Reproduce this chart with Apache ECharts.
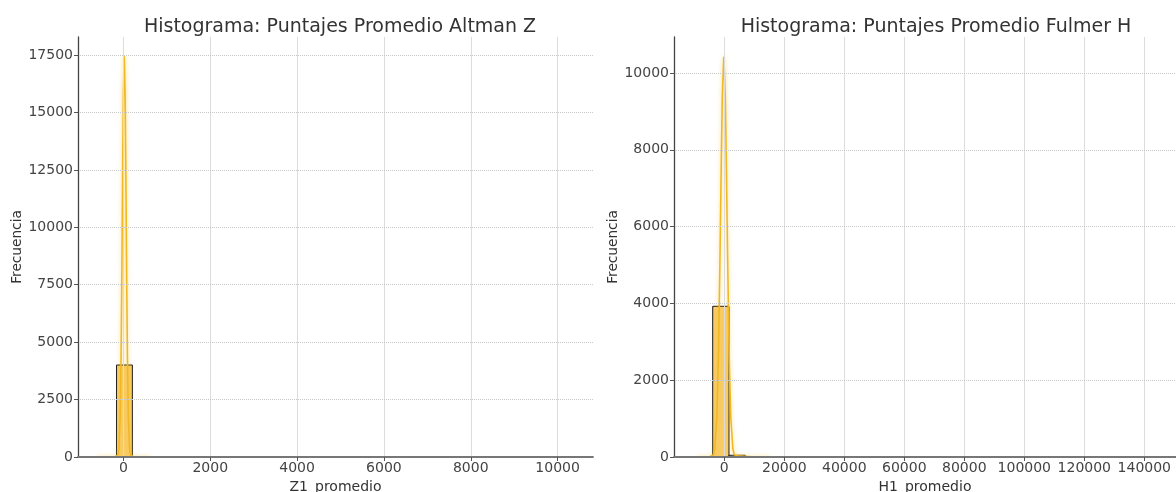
<!DOCTYPE html>
<html>
<head>
<meta charset="utf-8">
<script src="https://cdn.jsdelivr.net/npm/echarts@6/dist/echarts.min.js"></script>
<style>
html,body{margin:0;padding:0;background:#fff;}
#chart{width:1176px;height:492px;}
</style>
</head>
<body>
<div id="chart"></div>
<script>
// ---- Data ----
const leftTitle = 'Histograma: Puntajes Promedio Altman Z';
const rightTitle = 'Histograma: Puntajes Promedio Fulmer H';
const leftXName = 'Z1_promedio';
const rightXName = 'H1_promedio';
const yName = 'Frecuencia';

// Altman Z histogram (30 bins)
const leftBinStart = -158;
const leftBinWidth = 365;
const leftCounts = [4005, 6, 2, 1, 0, 1, 0, 0, 1, 0, 0, 0, 0, 0, 1, 0, 0, 0, 0, 0, 0, 0, 0, 0, 0, 0, 0, 0, 0, 1];
const leftKde = [[-600,0],[-200,0],[-123,87],[-103,350],[-75,1745],[-53,4360],[-32,8725],[-14,13090],[0,15700],[20,17450],[40,15700],[54,13090],[72,8725],[93,4360],[115,1745],[143,350],[163,87],[250,0],[600,0]];
const leftXTicks = [0, 2000, 4000, 6000, 8000, 10000];
const leftYTicks = [0, 2500, 5000, 7500, 10000, 12500, 15000, 17500];

// Fulmer H histogram (28 bins)
const rightBinStart = -3870;
const rightBinWidth = 5430;
const rightCounts = [3924, 45, 8, 3, 1, 1, 0, 1, 0, 0, 0, 0, 0, 0, 0, 0, 0, 0, 0, 0, 0, 0, 0, 0, 0, 0, 0, 1];
const rightKde = [[-9000,0],[-5000,0],[-3670,50],[-3190,210],[-2490,1040],[-1970,2600],[-1440,5210],[-990,7800],[-670,9380],[-170,10420],[330,9380],[650,7800],[1100,5210],[1630,2600],[2150,1040],[2850,210],[3330,60],[4500,30],[6500,20],[9000,5],[12000,0],[15000,0]];
const rightXTicks = [0, 20000, 40000, 60000, 80000, 100000, 120000, 140000];
const rightYTicks = [0, 2000, 4000, 6000, 8000, 10000];

// ---- Build ----
function bins(start, width, counts) {
  return counts.map((c, i) => [start + i * width, start + (i + 1) * width, c]);
}
const FONT = 'DejaVu Sans';
const barFill = 'rgba(246,188,58,0.78)';
const kdeColor = '#f2b824';

function histRender(params, api) {
  const p0 = api.coord([api.value(0), api.value(2)]);
  const p1 = api.coord([api.value(1), 0]);
  return {
    type: 'rect',
    shape: {x: p0[0], y: p0[1], width: p1[0] - p0[0], height: p1[1] - p0[1]},
    style: {fill: barFill, stroke: '#1a1a1a', lineWidth: 1}
  };
}

function xAxis(idx, min, max, ticks, name) {
  return {
    type: 'value', gridIndex: idx, min: min, max: max, z: 10,
    name: name, nameLocation: 'middle', nameGap: 23,
    nameTextStyle: {fontFamily: FONT, fontSize: 14, color: '#333'},
    axisLine: {show: true, onZero: false, lineStyle: {color: '#777', width: 1.8}},
    axisTick: {show: true, length: 4, customValues: ticks, lineStyle: {color: '#555'}},
    axisLabel: {customValues: ticks, margin: 4, fontFamily: FONT, fontSize: 14, color: '#444',
      formatter: v => String(v)},
    splitLine: {show: false}
  };
}
function yAxis(idx, max, ticks, name) {
  return {
    type: 'value', gridIndex: idx, min: 0, max: max, z: 10,
    name: name, nameLocation: 'middle', nameGap: 53, nameRotate: 90,
    nameTextStyle: {fontFamily: FONT, fontSize: 13.7, color: '#333'},
    axisLine: {show: true, onZero: false, lineStyle: {color: '#444', width: 1.3}},
    axisTick: {show: true, length: 4, customValues: ticks, lineStyle: {color: '#555'}},
    axisLabel: {customValues: ticks, margin: 5, fontFamily: FONT, fontSize: 14, color: '#444',
      formatter: v => String(v)},
    splitLine: {show: false}
  };
}
function gridLines(idx, xticks, yticks) {
  return {
    type: 'line', xAxisIndex: idx, yAxisIndex: idx, data: [[xticks[0], 0]],
    showSymbol: false, lineStyle: {opacity: 0}, silent: true, z: 1,
    markLine: {silent: true, symbol: 'none', label: {show: false}, animation: false,
      data: xticks.map(t => ({xAxis: t, lineStyle: {color: '#dcdcdc', type: 'solid', width: 1}}))
        .concat(yticks.slice(1).map(t => ({yAxis: t, lineStyle: {color: '#c8c8c8', type: 'dotted', width: 1}})))}
  };
}
function kdeSeries(idx, data) {
  return {type: 'line', xAxisIndex: idx, yAxisIndex: idx, data: data, showSymbol: false, z: 4,
    lineStyle: {color: kdeColor, width: 1.6, shadowBlur: 4, shadowColor: 'rgba(247,200,60,0.7)'}};
}

const chart = echarts.init(document.getElementById('chart'), null, {renderer: 'canvas'});
chart.setOption({
  backgroundColor: '#fff',
  animation: false,
  title: [
    {text: leftTitle, left: 335, top: 13, textAlign: 'center',
      textStyle: {fontFamily: FONT, fontSize: 19, fontWeight: 'normal', color: '#333'}},
    {text: rightTitle, left: 931, top: 13, textAlign: 'center',
      textStyle: {fontFamily: FONT, fontSize: 19, fontWeight: 'normal', color: '#333'}}
  ],
  grid: [
    {left: 78, right: 583, top: 37, bottom: 35, containLabel: false, outerBoundsMode: 'none'},
    {left: 674, right: 0, top: 37, bottom: 35, containLabel: false, outerBoundsMode: 'none'}
  ],
  xAxis: [
    xAxis(0, -1045, 10815, leftXTicks, leftXName),
    xAxis(1, -16770, 150570, rightXTicks, rightXName)
  ],
  yAxis: [
    yAxis(0, 18285, leftYTicks, yName),
    yAxis(1, 10937, rightYTicks, yName)
  ],
  series: [
    gridLines(0, leftXTicks, leftYTicks),
    gridLines(1, rightXTicks, rightYTicks),
    {type: 'custom', xAxisIndex: 0, yAxisIndex: 0, renderItem: histRender, z: 3,
      data: bins(leftBinStart, leftBinWidth, leftCounts)},
    {type: 'custom', xAxisIndex: 1, yAxisIndex: 1, renderItem: histRender, z: 3,
      data: bins(rightBinStart, rightBinWidth, rightCounts)},
    kdeSeries(0, leftKde),
    kdeSeries(1, rightKde)
  ]
});
</script>
</body>
</html>
